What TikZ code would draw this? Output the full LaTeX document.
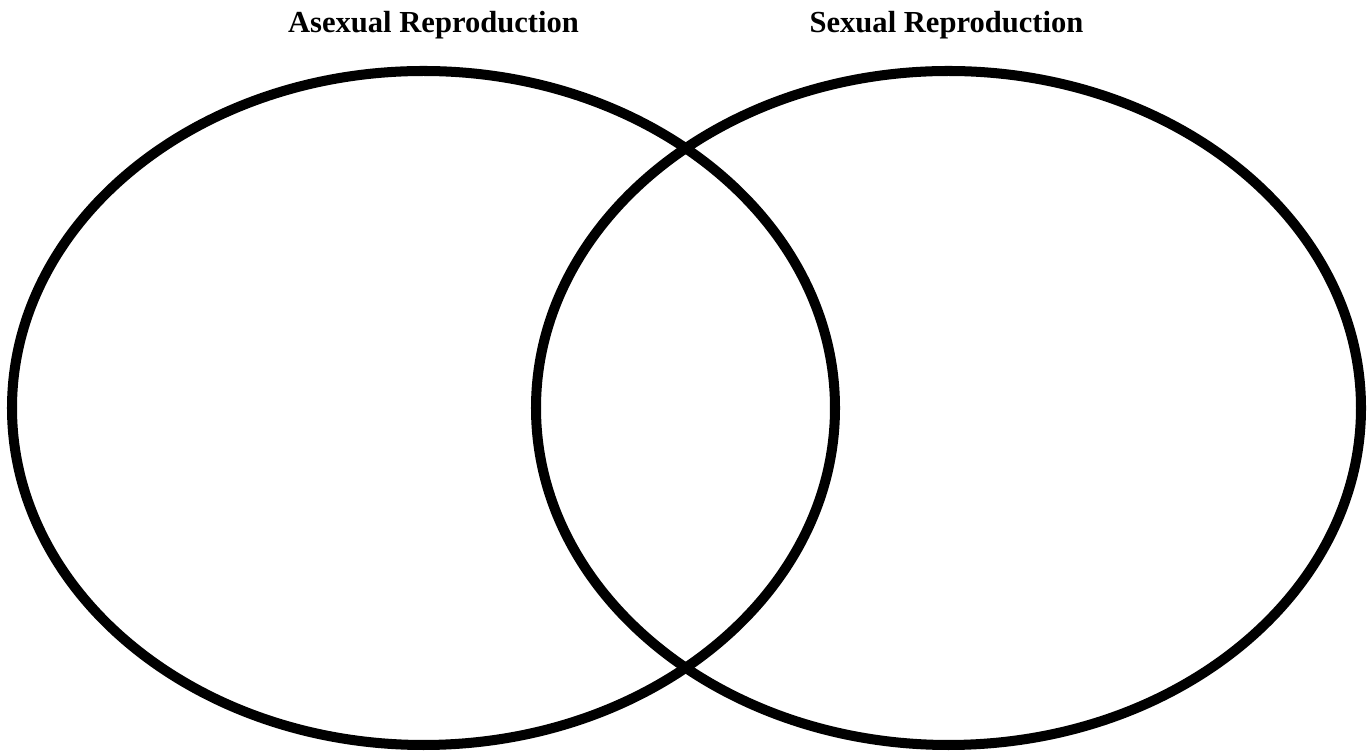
\documentclass[tikz,border=0pt]{standalone}
\usepackage{fontspec}
\setmainfont{Liberation Serif}
\usetikzlibrary{positioning}

\begin{document}
\begin{tikzpicture}[ring/.style={line width=5.7pt},
  title/.style={font=\fontsize{17.4}{20}\selectfont\bfseries,anchor=base,inner sep=0pt}]
  \useasboundingbox (0,0) rectangle (27.44,15.10);
  % Two overlapping sets, same height, centres 10.5 apart.
  \coordinate (asexual) at (8.47,6.94);
  \coordinate (sexual) at (18.97,6.94);
  \draw[ring] (asexual) ellipse (8.23 and 6.74);
  \draw[ring] (sexual) ellipse (8.25 and 6.74);
  \node[title] (asexualtitle) at (8.67,14.44) {Asexual Reproduction};
  \node[title] (sexualtitle) at (18.93,14.44) {Sexual Reproduction};
\end{tikzpicture}
\end{document}
